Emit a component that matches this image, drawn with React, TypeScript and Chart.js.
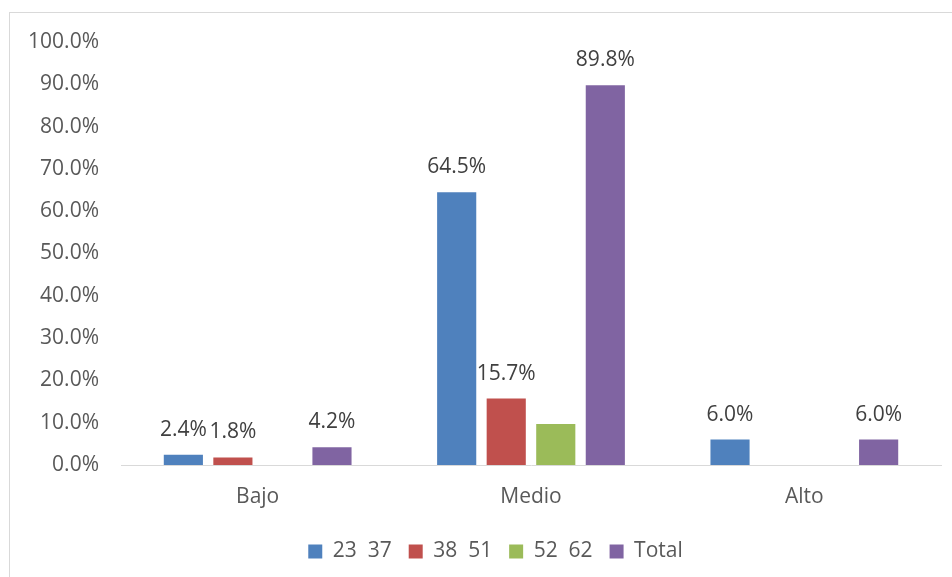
import React, { useEffect, useRef } from "react";
import { Chart, registerables } from "chart.js";

Chart.register(...registerables);

const categories = ["Bajo", "Medio", "Alto"];
const seriesNames = ["23  37", "38  51", "52  62", "Total"];
const serie2337 = [2.4, 64.5, 6.0];
const serie3851 = [1.8, 15.7, null];
const serie5262 = [null, 9.7, null];
const serieTotal = [4.2, 89.8, 6.0];
const showLabels = [true, true, false, true];
const colors = ["#4F81BD", "#C0504D", "#9BBB59", "#8064A2"];
const yTicks = [0, 10, 20, 30, 40, 50, 60, 70, 80, 90, 100];

const FONT = "'Open Sans', sans-serif";

const labelPlugin = {
  id: "barLabels",
  afterLayout(chart: any) {
    if (chart.legend) {
      chart.legend.left += 20;
      chart.legend.right += 20;
    }
  },
  afterDatasetsDraw(chart: any) {
    const ctx = chart.ctx;
    ctx.save();
    ctx.font = `21px ${FONT}`;
    ctx.fillStyle = "#404040";
    ctx.textAlign = "center";
    ctx.textBaseline = "middle";
    chart.data.datasets.forEach((ds: any, i: number) => {
      if (!showLabels[i]) return;
      const meta = chart.getDatasetMeta(i);
      meta.data.forEach((bar: any, j: number) => {
        const v = ds.data[j];
        if (v === null || v === undefined) return;
        ctx.fillText(v.toFixed(1) + "%", bar.x, bar.y - 25);
      });
    });
    ctx.restore();
  },
};

export default function App() {
  const ref = useRef<HTMLCanvasElement>(null);
  useEffect(() => {
    if (!ref.current) return;
    const data = [serie2337, serie3851, serie5262, serieTotal];
    const chart = new Chart(ref.current, {
      type: "bar",
      data: {
        labels: categories,
        datasets: seriesNames.map((name, i) => ({
          label: name,
          data: data[i] as any,
          backgroundColor: colors[i],
          categoryPercentage: 0.725,
          barPercentage: 0.79,
        })),
      },
      options: {
        animation: false,
        responsive: true,
        maintainAspectRatio: false,
        layout: { padding: { top: 29, right: 12, left: 0, bottom: 6 } },
        plugins: {
          tooltip: { enabled: false },
          legend: {
            position: "bottom",
            labels: {
              font: { family: FONT, size: 21 },
              color: "#595959",
              boxWidth: 14,
              boxHeight: 14,
              padding: 17,
            },
          },
        },
        scales: {
          x: {
            afterFit(axis: any) {
              axis.height = 59;
            },
            grid: { display: false, drawTicks: false },
            border: { display: true, color: "#D9D9D9", width: 1 },
            ticks: {
              font: { family: FONT, size: 21 },
              color: "#595959",
              padding: 19,
            },
          },
          y: {
            min: 0,
            max: 100,
            afterBuildTicks(axis: any) {
              axis.ticks = yTicks.map((v) => ({ value: v }));
            },
            afterFit(axis: any) {
              axis.width = 111;
              axis.paddingTop = 0;
              axis.paddingBottom = 0;
            },
            grid: { display: false, drawTicks: false },
            border: { display: false },
            ticks: {
              font: { family: FONT, size: 21 },
              color: "#595959",
              padding: 22,
              callback: (v: any) => Number(v).toFixed(1) + "%",
            },
          },
        },
      },
      plugins: [labelPlugin],
    });
    return () => chart.destroy();
  }, []);

  return (
    <div
      style={{
        position: "absolute",
        left: 9,
        top: 12,
        width: 960,
        height: 580,
        border: "1px solid #D9D9D9",
        boxSizing: "border-box",
        background: "#fff",
      }}
    >
      <div style={{ position: "absolute", left: 0, top: 0, width: 943, height: 565 }}>
        <canvas ref={ref} />
      </div>
    </div>
  );
}
